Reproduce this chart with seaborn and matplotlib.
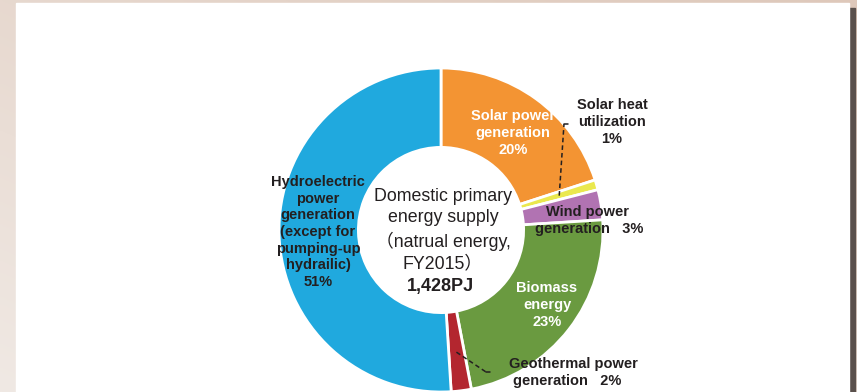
import numpy as np
import matplotlib
matplotlib.use("Agg")
import matplotlib.pyplot as plt
from matplotlib.patches import Rectangle
import seaborn as sns

# Domestic primary energy supply (natural energy, FY2015), share in %
sources = ["Solar power generation", "Solar heat utilization", "Wind power generation",
           "Biomass energy", "Geothermal power generation",
           "Hydroelectric power generation (except for pumping-up hydrailic)"]
shares = [20, 1, 3, 23, 2, 51]
colors = ["#F39433", "#EAE84E", "#B173B2", "#6A9A40", "#B3262F", "#20A9DE"]
total_label = "1,428PJ"

sns.set_theme(style="white")
plt.rcParams["font.family"] = ["Liberation Sans", "Noto Sans CJK JP"]

W, H = 857, 392
fig = plt.figure(figsize=(W / 100, H / 100), dpi=100)
fig.patch.set_facecolor("#E9DDD4")

# page background: soft beige gradient, white card with a dark right shadow
bg = fig.add_axes([0, 0, 1, 1])
bg.set_axis_off()
grad = np.linspace(0, 1, 256)
gx, gy = np.meshgrid(grad, grad)
g = 0.5 * gx + 0.5 * (1 - gy)
c0 = np.array([240, 233, 228]) / 255
c1 = np.array([222, 200, 186]) / 255
img = c0[None, None, :] * (1 - g[..., None]) + c1[None, None, :] * g[..., None]
bg.imshow(img, extent=[0, W, 0, H], aspect="auto", origin="upper")
bg.add_patch(Rectangle((849, 0), 6, H - 8, color="#5A504C"))
bg.add_patch(Rectangle((16, 0), 833, H - 3, color="white"))
bg.set_xlim(0, W)
bg.set_ylim(0, H)

# donut axes: centre (441, 230) px, outer radius 162 px
cx, cy, R = 441, 230, 162
ax = fig.add_axes([(cx - R) / W, (H - cy - R) / H, 2 * R / W, 2 * R / H])
ax.set_axis_off()
wedges, _ = ax.pie(shares, colors=colors, startangle=90, counterclock=False,
                   radius=1.0, wedgeprops=dict(width=0.49, edgecolor="white", linewidth=2))
ax.set_xlim(-1, 1)
ax.set_ylim(-1, 1)


def px(x, y):
    return (x - cx) / R, (cy - y) / R


dark = "#231F20"
bold = dict(fontsize=10.5, fontweight="bold", ha="center", va="center",
            linespacing=1.24, clip_on=False)

ax.text(*px(513, 133), "Solar power\ngeneration\n20%", color="white", **bold)
ax.text(*px(612, 122), "Solar heat\nutilization\n1%", color=dark, **bold)
ax.text(*px(588, 212), "Wind power", color=dark, **bold)
ax.text(*px(589, 229), "generation   3%", color=dark, **bold)
ax.text(*px(547, 305), "Biomass\nenergy\n23%", color="white", **bold)
ax.text(*px(318, 232), "Hydroelectric\npower\ngeneration\n(except for\npumping-up\nhydrailic)\n51%",
        color=dark, **bold)
ax.text(*px(573, 364), "Geothermal power", color=dark, **bold)
ax.text(*px(567, 381), "generation   2%", color=dark, **bold)

# centre caption
ax.text(*px(443, 230), "Domestic primary\nenergy supply\n（natrual energy,\nFY2015）",
        fontsize=12.8, color=dark, ha="center", va="center", linespacing=1.33)
ax.text(*px(441, 286), total_label, fontsize=13, fontweight="bold", color=dark,
        ha="center", va="center")


# leader lines from the thin wedges to their labels
def wedge_point(i, r):
    start = 90 - 360 * sum(shares[:i]) / 100
    mid = start - 360 * shares[i] / 200
    a = np.deg2rad(mid)
    return r * np.cos(a), r * np.sin(a)


sx, sy = wedge_point(1, 0.76)
ex, ey = px(564, 124)
ax.plot([sx, ex], [sy, ey], ls=(0, (3, 2)), color=dark, lw=1.1, clip_on=False)
ax.plot([ex, px(568, 124)[0]], [ey, ey], color=dark, lw=1.1, clip_on=False)

gx0, gy0 = wedge_point(4, 0.76)
gx1, gy1 = px(486, 372)
ax.plot([gx0, gx1], [gy0, gy1], ls=(0, (3, 2)), color=dark, lw=1.1, clip_on=False)
ax.plot([gx1, px(490, 372)[0]], [gy1, gy1], color=dark, lw=1.1, clip_on=False)

fig.savefig("out.png", dpi=100, facecolor=fig.get_facecolor())
